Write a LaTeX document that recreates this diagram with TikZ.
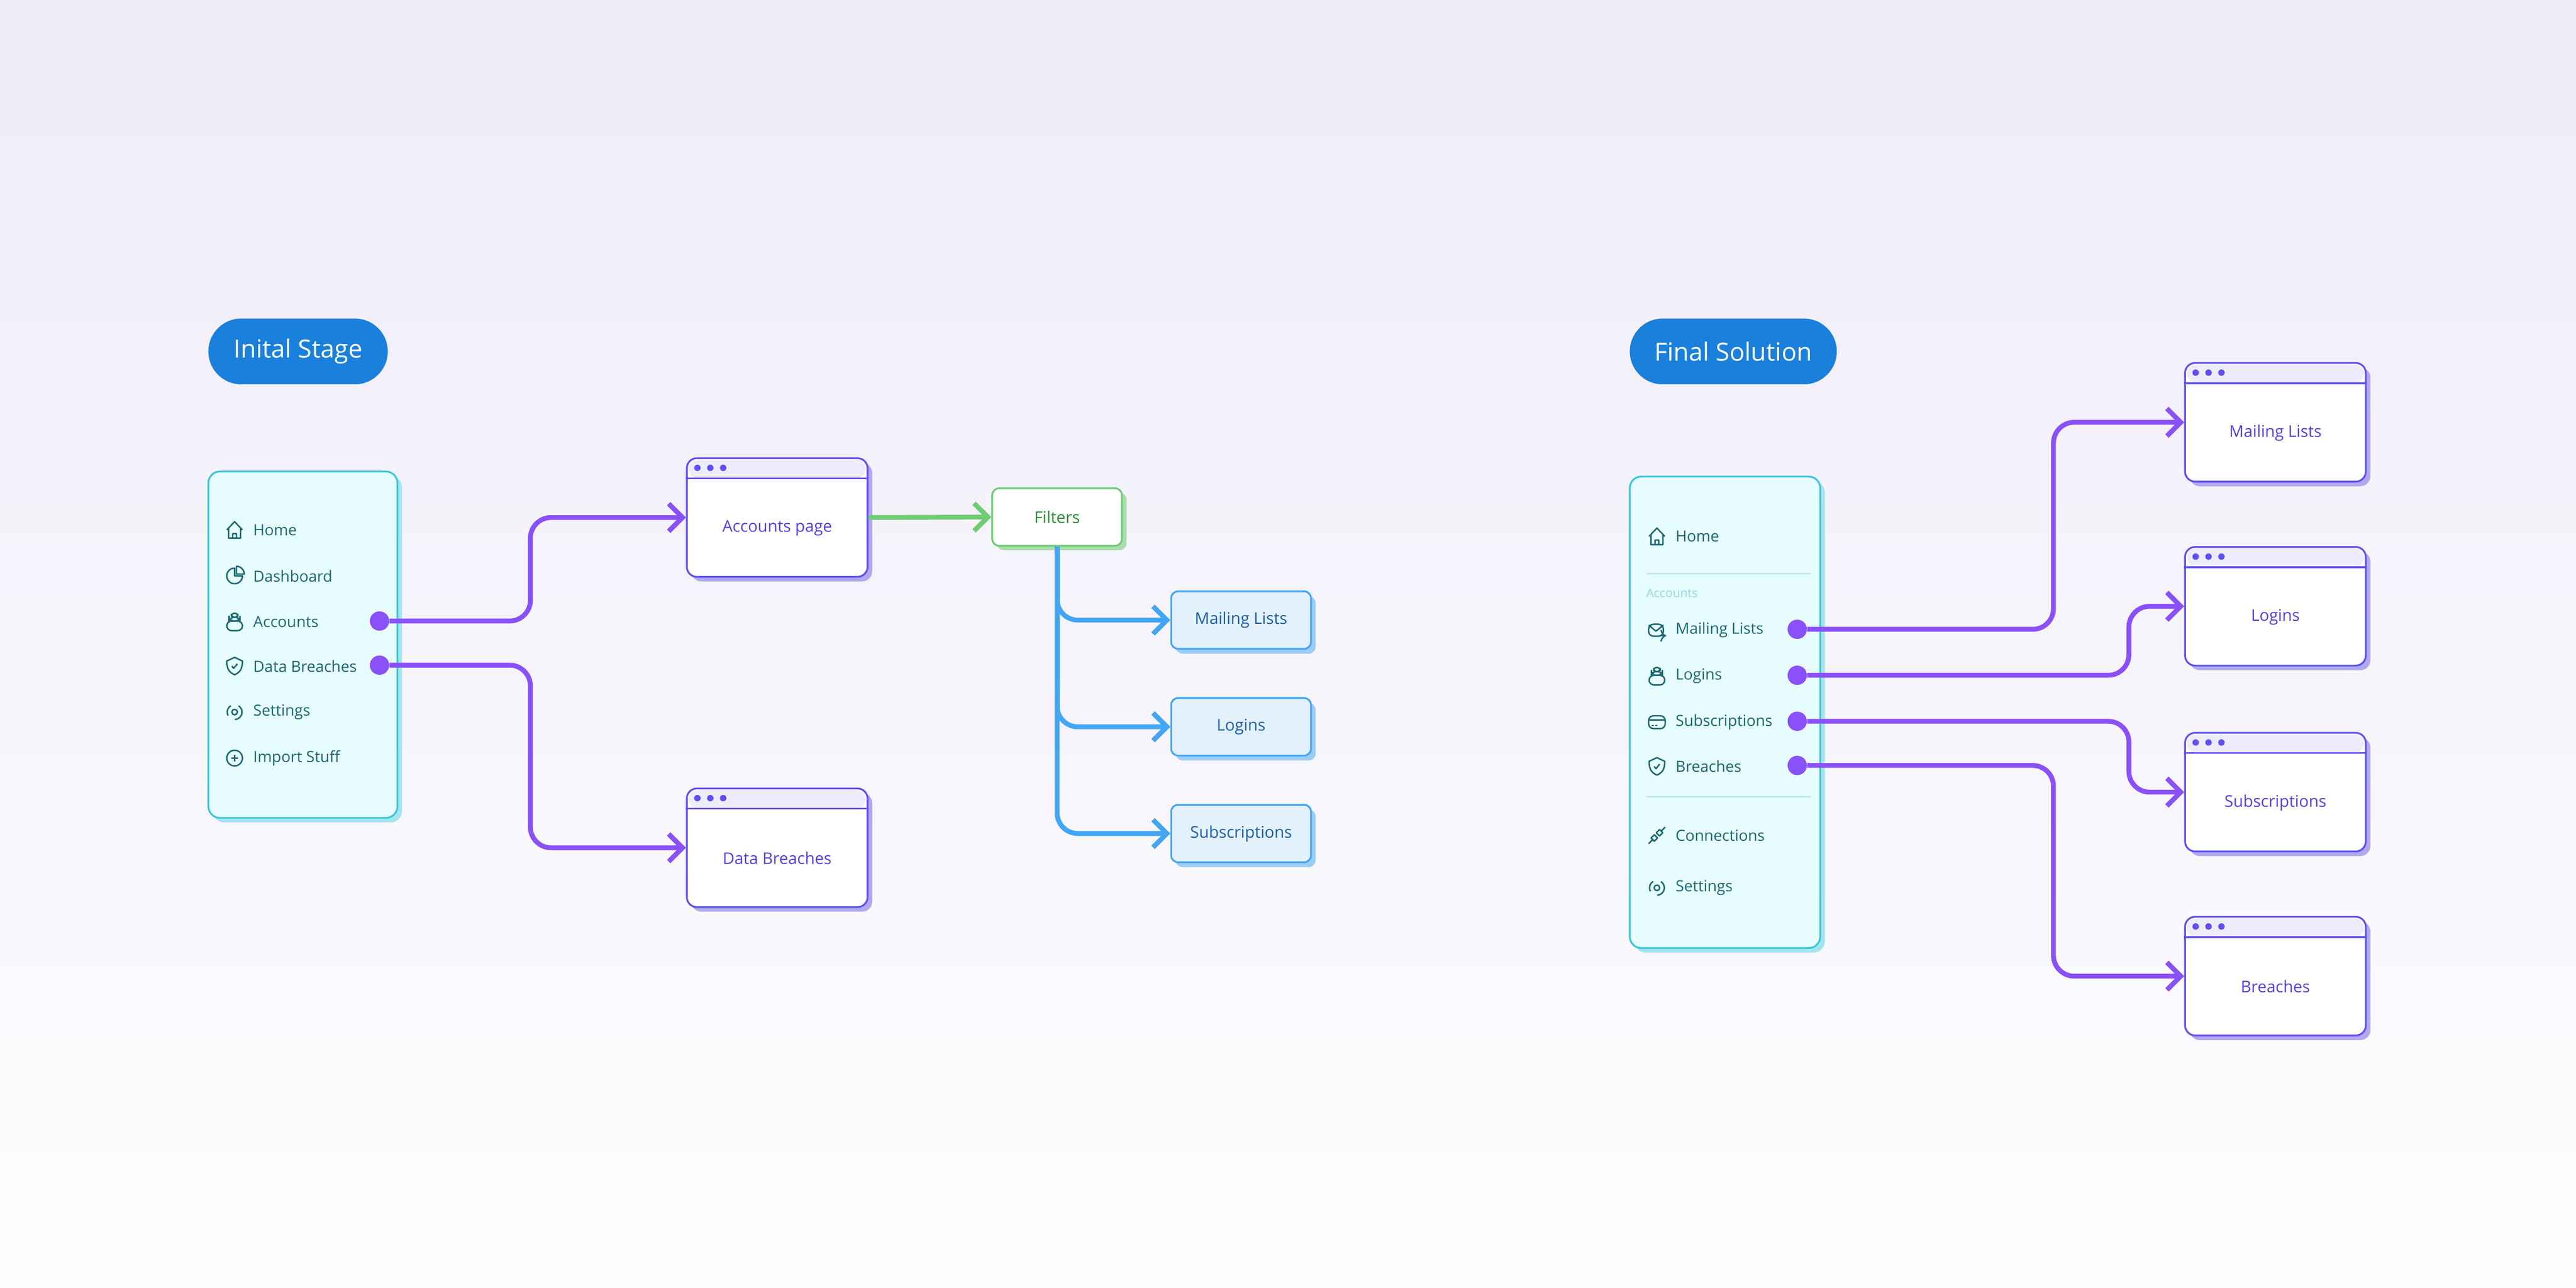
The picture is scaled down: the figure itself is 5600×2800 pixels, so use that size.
\documentclass[tikz,border=0pt]{standalone}
\usepackage{fontspec}
\setmainfont{Open Sans}
\usetikzlibrary{arrows.meta,calc}
\definecolor{bgtop}{HTML}{EFEBF8}
\definecolor{bgbot}{HTML}{FDFDFE}
\definecolor{pill}{HTML}{1A80DB}
\definecolor{purp}{HTML}{8A50FA}
\definecolor{winline}{HTML}{5E4FF0}
\definecolor{winbar}{HTML}{EEEBFD}
\definecolor{winshadow}{HTML}{B0A8F1}
\definecolor{wintext}{HTML}{5A3FE3}
\definecolor{sidefill}{HTML}{E6FCFF}
\definecolor{sideline}{HTML}{3CC6DA}
\definecolor{sideshadow}{HTML}{A3E5EE}
\definecolor{sidetext}{HTML}{1C6870}
\definecolor{sidesub}{HTML}{8EDBE6}
\definecolor{blueline}{HTML}{42A5F5}
\definecolor{bluefill}{HTML}{E3F1FD}
\definecolor{bluetext}{HTML}{1D5FA8}
\definecolor{blueshadow}{HTML}{9CCDF5}
\definecolor{greenline}{HTML}{6FCC75}
\definecolor{greentext}{HTML}{2E8B32}
\definecolor{greenshadow}{HTML}{A8DDAB}
\tikzset{
  stage/.style={fill=pill,text=white,minimum width=39mm,minimum height=14.3mm,inner sep=0,font=\fontsize{15.5}{18}\selectfont,rounded corners=7.15mm},
  window/.style={draw=winline,fill=white,line width=1.1pt,rounded corners=2.2mm,minimum width=39.3mm,minimum height=25.8mm,inner sep=0},
  win label/.style={text=wintext,font=\fontsize{10}{12}\selectfont},
  sidebar/.style={draw=sideline,fill=sidefill,line width=1.1pt,rounded corners=2.5mm,inner sep=0},
  item/.style={text=sidetext,anchor=west,inner sep=0,font=\fontsize{9.5}{11}\selectfont},
  ico/.style={draw=sidetext,line width=0.9pt,line join=round},
  dot/.style={circle,fill=purp,minimum size=4.2mm,inner sep=0},
  link/.style={draw=purp,line width=3pt,rounded corners=4.5mm,-{Straight Barb[length=3mm,width=6mm,line width=3pt]}},
  tag/.style={draw=blueline,fill=bluefill,line width=1.1pt,rounded corners=1.5mm,minimum width=30.4mm,minimum height=12.5mm,text=bluetext,font=\fontsize{10}{12}\selectfont},
  branch/.style={draw=blueline,line width=3pt,rounded corners=4.5mm,-{Straight Barb[length=3mm,width=6mm,line width=3pt]}},
}
% fenetre: nom, coin, texte
\newcommand\winbox[3]{%
  \fill[winshadow,rounded corners=2.2mm] ($(#2)+(10,10)$) rectangle ++(393,258);
  \node[window] (#1) at ($(#2)+(196.5,129)$) {};
  \fill[winbar,rounded corners=2.2mm] ($(#1.north west)+(6,5)$) rectangle ($(#1.north east)+(-6,46)$);
  \draw[winline,line width=1.1pt] ($(#1.north west)+(0,46)$) -- ($(#1.north east)+(0,46)$);
  \foreach \i in {0,1,2} \fill[winline] ($(#1.north west)+(25+\i*28,23)$) circle (7);
  \node[win label] (#1 txt) at ($(#1.center)+(0,23)$) {#3};
}
\newcommand\sidebox[3]{% nom, coin, taille
  \fill[sideshadow,rounded corners=2.5mm] ($(#2)+(10,10)$) rectangle ++(#3);
  \draw[sidebar] (#2) rectangle ++(#3);
  \coordinate (#1) at (#2);
}
% icones
\def\icohome#1{\draw[ico] ($(#1)+(-17,0)$) -- ++(17,-18) -- ++(17,18) ($(#1)+(-13,-4)$) -- ++(0,22) -- ++(26,0) -- ++(0,-22) ($(#1)+(-4,18)$) -- ++(0,-10) -- ++(8,0) -- ++(0,10);}
\def\icopie#1{\draw[ico] ($(#1)+(0,-17)$) arc (-90:-360:17) -- (#1) -- cycle; \draw[ico] ($(#1)+(4,-4)$) -- ++(0,-17) arc (-90:0:17) -- cycle;}
\def\icolock#1{\draw[ico,rounded corners=3] ($(#1)+(-17,-2)$) rectangle ($(#1)+(17,19)$); \draw[ico,rounded corners=3] ($(#1)+(-12,-2)$) rectangle ($(#1)+(12,-10)$); \draw[ico,rounded corners=2] ($(#1)+(-7,-10)$) rectangle ($(#1)+(7,-19)$);}
\def\icoshield#1{\draw[ico] ($(#1)+(0,-19)$) -- ++(17,8) .. controls +(0,20) and +(10,-5) .. ($(#1)+(0,19)$) .. controls +(-10,-5) and +(0,20) .. ($(#1)+(-17,-11)$) -- cycle; \draw[ico] ($(#1)+(-6,0)$) -- ++(4,5) -- ++(8,-10);}
\def\icogear#1{\draw[ico] (#1) circle (6); \draw[ico,dash pattern=on 7 off 5] (#1) circle (16);}
\def\icoplus#1{\draw[ico] (#1) circle (17); \draw[ico] ($(#1)+(-7,0)$) -- ++(14,0) ($(#1)+(0,-7)$) -- ++(0,14);}
\def\icomail#1{\draw[ico,rounded corners=3] ($(#1)+(-18,-13)$) rectangle ($(#1)+(14,13)$); \draw[ico] ($(#1)+(-18,-11)$) -- ($(#1)+(-2,2)$) -- ($(#1)+(14,-11)$); \draw[ico,->] ($(#1)+(8,12)$) -- ++(12,0);}
\def\icocard#1{\draw[ico,rounded corners=3] ($(#1)+(-18,-14)$) rectangle ($(#1)+(18,14)$); \draw[ico] ($(#1)+(-18,-5)$) -- ++(36,0) ($(#1)+(-11,7)$) -- ++(4,0) ($(#1)+(-3,7)$) -- ++(4,0);}
\def\icoplug#1{\draw[ico] ($(#1)+(-18,18)$) -- ++(10,-10) ($(#1)+(18,-18)$) -- ++(-8,8); \draw[ico,rotate around={45:(#1)}] ($(#1)+(-13,-5)$) rectangle ($(#1)+(-3,5)$) ($(#1)+(3,-5)$) rectangle ($(#1)+(13,5)$);}

\begin{document}
\begin{tikzpicture}[x=0.1mm,y=-0.1mm]
  \shade[top color=bgtop,bottom color=bgbot] (0,0) rectangle (5600,2800);
  \useasboundingbox (0,0) rectangle (5600,2800);

  %%% etape initiale
  \node[stage] (s1) at (648,764) {Inital Stage};
  \sidebox{sb1}{453,1025}{411,753}
  \foreach \y/\t/\k [count=\n] in {1152/Home/home,1252/Dashboard/pie,1352/Accounts/lock,1448/Data Breaches/shield,1548/Settings/gear,1648/Import Stuff/plus}{
    \csname ico\k\endcsname{510,\y}
    \node[item] (a\n) at (550,\y) {\t};
  }
  \node[dot] (da) at (825,1350) {};
  \node[dot] (db) at (825,1446) {};

  \winbox{acc}{1493,996}{Accounts page}
  \winbox{brc}{1493,1714}{Data Breaches}
  \draw[link] (da) -- (1153,1350) |- (acc.west);
  \draw[link] (db) -- (1153,1446) |- (brc.west);

  % filtres
  \fill[greenshadow,rounded corners=1.5mm] (2167,1071) rectangle ++(282,125);
  \node[draw=greenline,fill=white,line width=1.1pt,rounded corners=1.5mm,minimum width=28.2mm,minimum height=12.5mm,text=greentext,font=\fontsize{10}{12}\selectfont] (flt) at (2298,1124) {Filters};
  \draw[draw=greenline,line width=3pt,-{Straight Barb[length=3mm,width=6mm,line width=3pt]}] (acc.east) -- (flt.west);

  \foreach \y/\t/\nm in {1348/Mailing Lists/t1,1580/Logins/t2,1812/Subscriptions/t3}{
    \fill[blueshadow,rounded corners=1.5mm] (2556,\y-52) rectangle ++(304,125);
    \node[tag] (\nm) at (2698,\y) {\t};
    \draw[branch] (flt.south) |- (\nm.west);
  }

  %%% solution finale
  \node[stage,minimum width=45mm] (s2) at (3768,764) {Final Solution};
  \sidebox{sb2}{3543,1036}{414,1025}
  \draw[sidesub!60,line width=0.8pt] (3580,1247) -- (3937,1247) (3580,1732) -- (3937,1732);
  \node[item,text=sidesub,font=\fontsize{7.5}{9}\selectfont] (acl) at (3578,1289) {Accounts};
  \foreach \y/\t/\k [count=\n] in {1166/Home/home,1370/Mailing Lists/mail,1470/Logins/lock,1570/Subscriptions/card,1666/Breaches/shield,1816/Connections/plug,1930/Settings/gear}{
    \csname ico\k\endcsname{3602,\y}
    \node[item] (b\n) at (3642,\y) {\t};
  }
  \foreach \y/\nm in {1368/d1,1468/d2,1568/d3,1664/d4}
    \node[dot] (\nm) at (3907,\y) {};

  \winbox{w1}{4750,789}{Mailing Lists}
  \winbox{w2}{4750,1189}{Logins}
  \winbox{w3}{4750,1593}{Subscriptions}
  \winbox{w4}{4750,1993}{Breaches}
  \draw[link] (d1) -- (4464,1368) |- (w1.west);
  \draw[link] (d2) -- (4628,1468) |- (w2.west);
  \draw[link] (d3) -- (4628,1568) |- (w3.west);
  \draw[link] (d4) -- (4464,1664) |- (w4.west);
\end{tikzpicture}
\end{document}
